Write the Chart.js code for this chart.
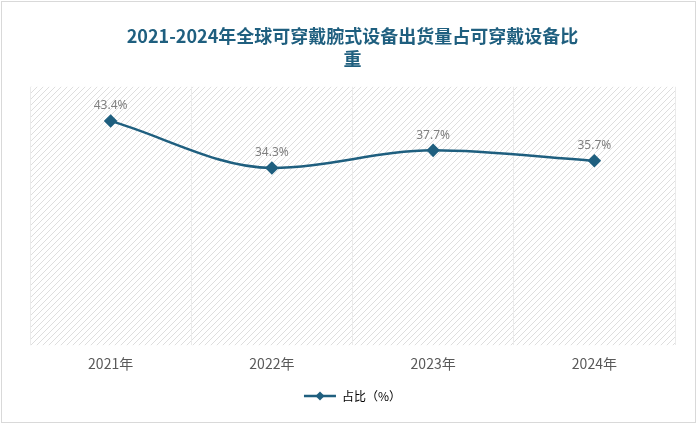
<!DOCTYPE html>
<html><head><meta charset="utf-8">
<script src="https://cdn.jsdelivr.net/npm/chart.js@4"></script>
<style>
html,body{margin:0;padding:0;background:#fff;}
#wrap{position:absolute;left:1px;top:1px;width:695px;height:422px;border:1px solid #d9d9d9;box-sizing:border-box;}
canvas{display:block;}
</style></head><body>
<div id="wrap"><canvas id="c" width="695" height="422"></canvas></div>
<script>
const categories = ['2021年','2022年','2023年','2024年'];
const shareValues = [43.4, 34.3, 37.7, 35.7];
const seriesName = '占比（%）';
const titleLines = ['2021-2024年全球可穿戴腕式设备出货量占可穿戴设备比','重'];

function makePattern(){
  const p=document.createElement('canvas');p.width=6;p.height=6;
  const g=p.getContext('2d');
  g.strokeStyle='#dedede';g.lineWidth=1;
  g.beginPath();g.moveTo(0,6);g.lineTo(6,0);g.moveTo(-3,3);g.lineTo(3,-3);g.moveTo(3,9);g.lineTo(9,3);g.stroke();
  return g.createPattern(p,'repeat');
}
const bgPlugin={id:'bg',beforeDraw(ch){const a=ch.chartArea,ctx=ch.ctx;ctx.save();ctx.fillStyle=makePattern();ctx.fillRect(a.left,a.top,a.right-a.left,a.bottom-a.top);ctx.restore();}};
const labelPlugin={id:'lbl',afterDatasetsDraw(ch){const ctx=ch.ctx;const m=ch.getDatasetMeta(0);ctx.save();ctx.font='12px "Noto Sans", sans-serif';ctx.fillStyle='#7f7f7f';ctx.textAlign='center';ctx.textBaseline='bottom';
m.data.forEach((pt,i)=>{ctx.fillText(shareValues[i].toFixed(1)+'%',pt.x,pt.y-9);});ctx.restore();}};
const legendMark={id:'lm',afterDraw(ch){const lg=ch.legend;if(!lg||!lg.legendHitBoxes.length)return;const b=lg.legendHitBoxes[0];const ctx=ch.ctx;const cx=b.left+16,cy=b.top+b.height/2;ctx.save();ctx.fillStyle='#1f5f7f';ctx.beginPath();ctx.moveTo(cx,cy-4.5);ctx.lineTo(cx+4.5,cy);ctx.lineTo(cx,cy+4.5);ctx.lineTo(cx-4.5,cy);ctx.closePath();ctx.fill();ctx.restore();}};

new Chart(document.getElementById('c'),{
  type:'line',
  data:{labels:categories,datasets:[{label:seriesName,data:shareValues,borderColor:'#1f5f7f',backgroundColor:'#1f5f7f',borderWidth:2.5,tension:0.4,cubicInterpolationMode:'monotone',pointStyle:'rectRot',pointRadius:5,pointHoverRadius:5}]},
  options:{responsive:false,animation:false,
    layout:{padding:{left:28,right:22,top:0,bottom:12}},
    plugins:{
      title:{display:true,text:titleLines,color:'#1f5f7f',font:{size:18,weight:'bold',family:'"Noto Sans CJK SC", sans-serif',lineHeight:1.3},padding:{top:22,bottom:16}},
      legend:{position:'bottom',labels:{usePointStyle:true,pointStyle:'line',pointStyleWidth:32,color:'#595959',font:{size:12,family:'"Noto Sans CJK SC", sans-serif'},boxWidth:32,padding:8,
        generateLabels(ch){return [{text:seriesName,strokeStyle:'#1f5f7f',fillStyle:'#1f5f7f',lineWidth:2.5,pointStyle:'line',datasetIndex:0}];}}},
      tooltip:{enabled:false}},
    scales:{
      x:{offset:true,grid:{display:true,offset:true,color:'#ebebeb',drawTicks:false},border:{display:false},ticks:{color:'#595959',font:{size:14,family:'"Noto Sans CJK SC", sans-serif'},padding:10}},
      y:{display:false,min:0,max:50}
    }},
  plugins:[bgPlugin,labelPlugin,legendMark]
});
</script></body></html>
